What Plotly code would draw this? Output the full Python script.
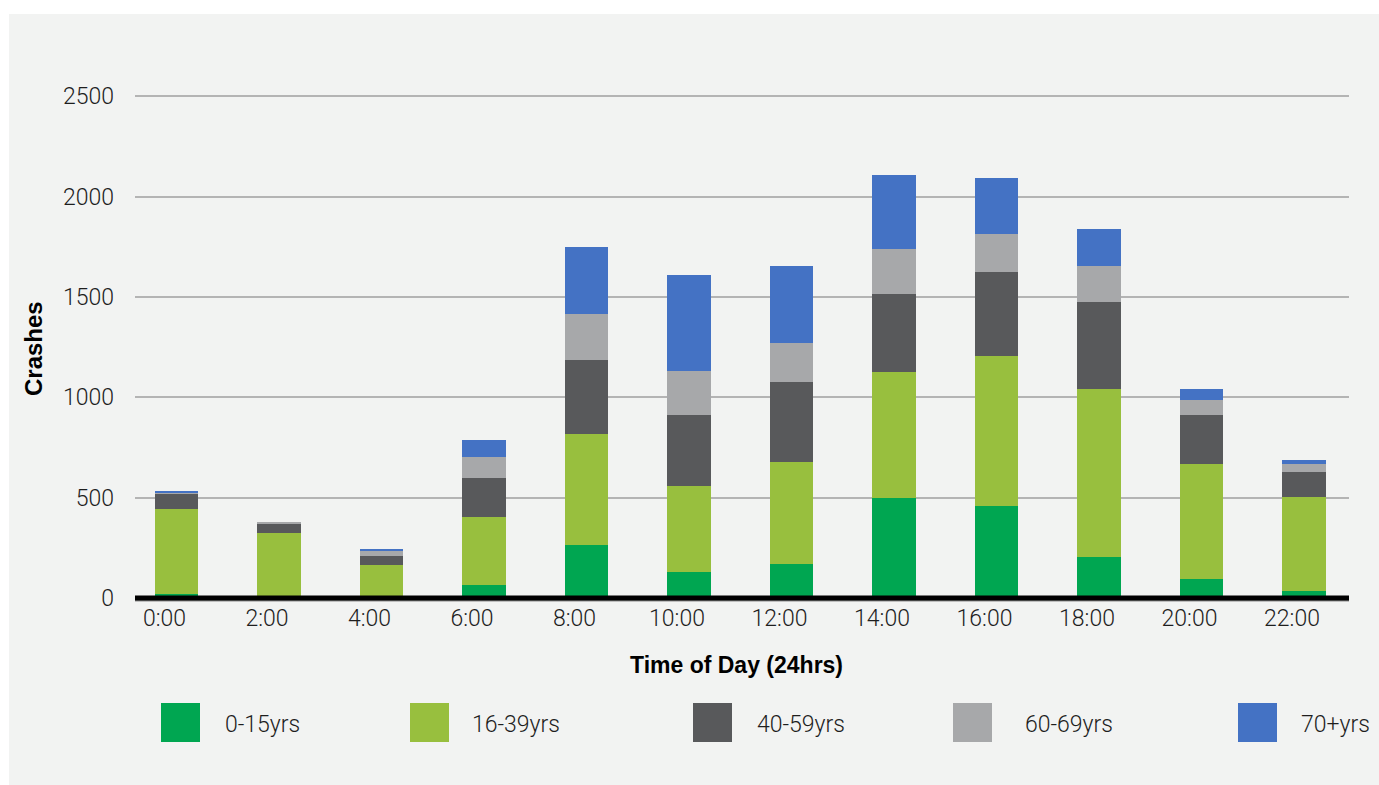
import plotly.graph_objects as go

# Crashes by time of day, split into driver age groups
hours = ["0:00", "2:00", "4:00", "6:00", "8:00", "10:00",
         "12:00", "14:00", "16:00", "18:00", "20:00", "22:00"]

age_groups = ["0-15yrs", "16-39yrs", "40-59yrs", "60-69yrs", "70+yrs"]
crashes_0_15 = [20, 8, 8, 65, 264, 130, 169, 498, 459, 204, 95, 35]
crashes_16_39 = [424, 316, 157, 339, 554, 428, 509, 629, 747, 838, 573, 468]
crashes_40_59 = [75, 45, 45, 194, 368, 354, 399, 388, 419, 434, 244, 125]
crashes_60_69 = [5, 10, 25, 105, 230, 220, 194, 225, 190, 179, 75, 40]
crashes_70_plus = [10, 0, 10, 85, 334, 478, 384, 369, 279, 185, 55, 20]

series = [crashes_0_15, crashes_16_39, crashes_40_59, crashes_60_69, crashes_70_plus]
colors = ["#00A651", "#98BF3E", "#58595B", "#A7A8AA", "#4472C4"]

y_ticks = [0, 500, 1000, 1500, 2000, 2500]

# page geometry (pixels)
W, H = 1379, 785
L, R, T, B = 135, 30, 94, 187
plot_w = W - L - R
plot_h = H - T - B
y_max = 2511.5


def px_x(px):
    return (px - L) / plot_w


def px_y(py):
    return (H - B - py) / plot_h


light_font = dict(family="Roboto, Liberation Sans, sans-serif", size=23, color="#1e1e1e", weight=300)
bold_font = dict(family="Liberation Sans, Arial, sans-serif", size=23, color="#000000", weight="bold")

fig = go.Figure()
for name, vals, col in zip(age_groups, series, colors):
    fig.add_trace(go.Bar(x=hours, y=vals, name=name, marker=dict(color=col, line=dict(width=0))))

shapes = [
    # light panel behind the whole chart
    dict(type="rect", xref="paper", yref="paper", layer="below",
         x0=px_x(9), x1=px_x(1380), y0=px_y(786), y1=px_y(14),
         fillcolor="#F2F3F2", line=dict(width=0)),
    # thin grey axis rule just under the baseline
    dict(type="rect", xref="paper", yref="paper", layer="above",
         x0=0, x1=1, y0=px_y(601.5), y1=px_y(599),
         fillcolor="#8C8C8C", line=dict(width=0)),
    # heavy black baseline centred on zero
    dict(type="rect", xref="paper", yref="paper", layer="above",
         x0=0, x1=1, y0=px_y(600.5), y1=px_y(595.5),
         fillcolor="#000000", line=dict(width=0)),
]

annotations = [
    dict(text="Time of Day (24hrs)", xref="paper", yref="paper",
         x=px_x(736.5), y=px_y(665), showarrow=False,
         xanchor="center", yanchor="middle", font=bold_font),
    dict(text="Crashes", xref="paper", yref="paper", textangle=-90,
         x=px_x(33), y=px_y(348), showarrow=False,
         xanchor="center", yanchor="middle", font=dict(bold_font, size=24)),
]

# legend: swatches and labels laid out in one row
swatch_left = [161, 410, 693, 953, 1238]
label_left = [225, 472, 757, 1025, 1301]
for name, col, sx, lx in zip(age_groups, colors, swatch_left, label_left):
    shapes.append(dict(type="rect", xref="paper", yref="paper",
                       x0=px_x(sx), x1=px_x(sx + 39), y0=px_y(742), y1=px_y(703),
                       fillcolor=col, line=dict(width=0)))
    annotations.append(dict(text=name, xref="paper", yref="paper",
                            x=px_x(lx - 2), y=px_y(724), showarrow=False,
                            xanchor="left", yanchor="middle", font=light_font))

fig.update_layout(
    width=W, height=H,
    margin=dict(l=L, r=R, t=T, b=B, pad=0),
    paper_bgcolor="#FFFFFF",
    plot_bgcolor="rgba(0,0,0,0)",
    barmode="stack",
    bargap=0.58,
    showlegend=False,
    shapes=shapes,
    annotations=annotations,
    xaxis=dict(
        type="category",
        range=[-0.4049, 11.439],
        showgrid=False, zeroline=False, showline=False,
        ticks="", tickfont=light_font,
        ticklabelshift=-12, ticklabelstandoff=4,
    ),
    yaxis=dict(
        range=[0, y_max],
        tickvals=y_ticks,
        showgrid=True, gridcolor="#B4B4B4", gridwidth=1.5,
        zeroline=False, showline=False, ticks="",
        tickfont=light_font, ticklabelstandoff=20,
    ),
)

fig.write_html("out.html")
